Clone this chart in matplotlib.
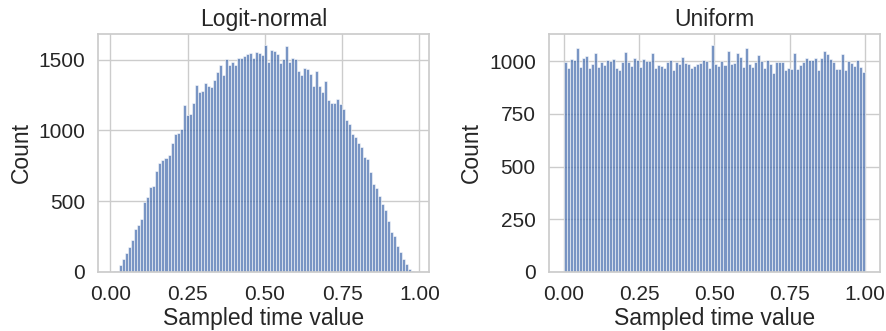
import numpy as np
import matplotlib
matplotlib.use("Agg")
import matplotlib.pyplot as plt
import seaborn as sns

# Histogram counts (100 bins each)
logit_counts = [
    5, 7, 47, 90, 130, 173, 223, 301, 332, 374,
    493, 526, 602, 609, 713, 770, 789, 806, 827, 912,
    972, 984, 1012, 1178, 1107, 1112, 1190, 1318, 1273, 1277,
    1334, 1311, 1308, 1356, 1410, 1458, 1394, 1505, 1462, 1481,
    1465, 1514, 1512, 1524, 1538, 1545, 1514, 1552, 1548, 1529,
    1600, 1486, 1571, 1562, 1536, 1474, 1505, 1595, 1486, 1512,
    1503, 1417, 1394, 1439, 1434, 1396, 1311, 1420, 1311, 1273,
    1349, 1213, 1192, 1192, 1221, 1187, 1149, 1071, 1043, 972,
    953, 908, 884, 811, 794, 706, 623, 595, 538, 476,
    436, 356, 282, 254, 185, 137, 88, 55, 21, 7,
]
uniform_counts = [
    997, 968, 1010, 1008, 1063, 975, 1014, 1025, 968, 986,
    1038, 973, 997, 984, 1005, 1003, 1013, 968, 957, 998,
    1044, 998, 978, 1014, 1008, 971, 1010, 1003, 1002, 1038,
    968, 983, 979, 968, 998, 1005, 959, 995, 986, 1021,
    994, 989, 967, 978, 986, 994, 1006, 1000, 968, 1076,
    987, 978, 1003, 984, 1049, 989, 994, 1040, 1019, 973,
    1062, 989, 973, 995, 1030, 1003, 968, 1006, 990, 944,
    997, 998, 997, 959, 970, 963, 1040, 963, 983, 998,
    1016, 1008, 1008, 1016, 960, 1017, 1048, 1033, 1010, 998,
    962, 962, 1033, 960, 1000, 992, 976, 1005, 973, 949,
]
# data range of each sample (bin edges span min..max)
logit_range = (0.0094, 0.9826)
uniform_range = (0.0, 1.0)

titles = ["Logit-normal", "Uniform"]
xticks = [0.0, 0.25, 0.5, 0.75, 1.0]

sns.set_theme(style="whitegrid")
plt.rcParams["font.family"] = ["Liberation Sans", "DejaVu Sans"]

fig = plt.figure(figsize=(8.86, 3.31), dpi=100)
ax1 = fig.add_axes([0.111, 0.179, 0.3733, 0.718])
ax2 = fig.add_axes([0.6196, 0.179, 0.3736, 0.718])

for ax, counts, rng, title in zip([ax1, ax2], [logit_counts, uniform_counts],
                                  [logit_range, uniform_range], titles):
    counts = np.array(counts)
    edges = np.linspace(rng[0], rng[1], len(counts) + 1)
    ax.bar(edges[:-1], counts, width=np.diff(edges), align="edge",
           color="#4c72b0", alpha=0.75, edgecolor="white", linewidth=0.5)
    ax.set_xticks(xticks)
    ax.set_xticklabels(["0.00", "0.25", "0.50", "0.75", "1.00"])
    ax.set_title(title, fontsize=16.5)
    ax.set_xlabel("Sampled time value", fontsize=16.5, labelpad=2)
    ax.set_ylabel("Count", fontsize=16.5)
    ax.tick_params(labelsize=15)

ax2.set_yticks([0, 250, 500, 750, 1000])

fig.savefig("out.png", dpi=100)
